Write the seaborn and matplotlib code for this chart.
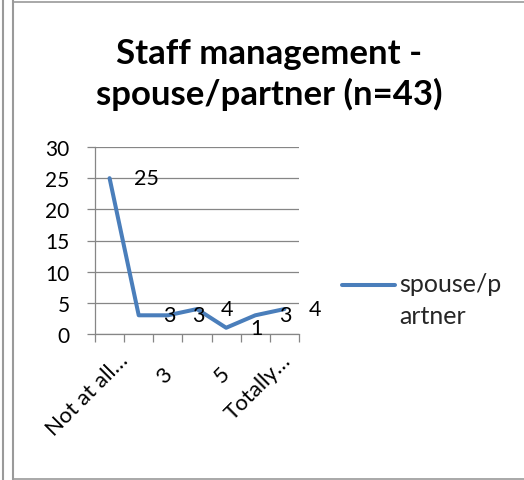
import numpy as np
import pandas as pd
import matplotlib
matplotlib.use("Agg")
import matplotlib.pyplot as plt
import matplotlib.transforms as mtransforms
from matplotlib.legend_handler import HandlerLine2D
from matplotlib.lines import Line2D
import seaborn as sns

# ---- data ----
categories = ["Not at all\u2026", "2", "3", "4", "5", "6", "Totally\u2026"]
values = [25, 3, 3, 4, 1, 3, 4]
shown_ticks = [0, 2, 4, 6]
y_ticks = [0, 5, 10, 15, 20, 25, 30]
series_name = "spouse/p\nartner"
title = "Staff management -\nspouse/partner (n=43)"

sns.set_theme(style="white")
plt.rcParams["font.family"] = ["Lato", "DejaVu Sans"]

W, H = 524, 481
fig = plt.figure(figsize=(W / 100, H / 100), dpi=100)
px = lambda x, y: (x / W, 1 - y / H)

ax = fig.add_axes([95 / W, 1 - 335 / H, 204 / W, 187 / H])
df = pd.DataFrame({"cat": categories, "val": values})
line_color = "#4A7EBB"
grid_color = "#868686"
sns.lineplot(data=df, x="cat", y="val", ax=ax, color=line_color, lw=2.9,
             sort=False, label=series_name, legend=False)
for ln in ax.lines:
    ln.set_solid_capstyle("round")
    ln.set_solid_joinstyle("round")

ax.set_xlim(-0.5, len(categories) - 0.5)
ax.set_ylim(0, 30)
ax.set_yticks(y_ticks)
ax.yaxis.grid(True, color=grid_color, lw=0.9)
ax.set_axisbelow(True)
ax.set_xlabel("")
ax.set_ylabel("")
for s in ["top", "right"]:
    ax.spines[s].set_visible(False)
for s in ["left", "bottom"]:
    ax.spines[s].set_color(grid_color)
    ax.spines[s].set_linewidth(0.9)

ax.tick_params(axis="y", which="major", length=5.8, width=0.9, color=grid_color,
               pad=12.5, labelsize=15, labelcolor="black", left=True)
ax.set_xticks(shown_ticks)
ax.set_xticklabels([categories[i] for i in shown_ticks])
ax.set_xticks(np.arange(-0.5, len(categories)), minor=True)
ax.tick_params(axis="x", which="minor", length=5.8, width=0.9, color=grid_color,
               bottom=True, direction="out")
ax.tick_params(axis="x", which="major", length=0, pad=0, labelsize=16,
               labelcolor="black")
label_offsets = [(15, -23), (1.5, -37), (1, -36), (3.5, -23)]
for lab, (dx, dy) in zip(ax.get_xticklabels(), label_offsets):
    lab.set_rotation(45)
    lab.set_rotation_mode("anchor")
    lab.set_ha("right")
    lab.set_va("center")
    lab.set_transform(lab.get_transform() +
                      mtransforms.ScaledTranslation(dx / 100, dy / 100, fig.dpi_scale_trans))

# data labels
for i, v in enumerate(values):
    ax.annotate(str(v), (i, v), xytext=(17.3, 0), textcoords="offset points",
                ha="left", va="center", fontsize=15.5, color="black")

# legend, handle aligned on first text line
class FirstLineHandler(HandlerLine2D):
    def create_artists(self, legend, orig_handle, xdescent, ydescent, width,
                       height, fontsize, trans):
        arts = super().create_artists(legend, orig_handle, xdescent, ydescent,
                                      width, height, fontsize, trans)
        for a in arts:
            a.set_ydata(np.asarray(a.get_ydata()) + 11.5)
        return arts

h = Line2D([], [], color=line_color, lw=2.9, solid_capstyle="round")
leg = fig.legend([h], [series_name], loc="upper left", bbox_to_anchor=px(342, 273),
                 frameon=False, fontsize=18, handlelength=2.1, handletextpad=0.2,
                 borderpad=0, borderaxespad=0, handler_map={h: FirstLineHandler()})
for t in leg.get_texts():
    t.set_linespacing(1.5)

fig.text(*px(269, 105), title, ha="center", va="baseline", fontsize=25,
         fontweight="bold", linespacing=1.28, color="black")

# outer frames
bc = "#9a9a9a"
fig.add_artist(Line2D([px(3, 0)[0]] * 2, [0, 1], color=bc, lw=1.5))
fig.add_artist(Line2D([px(13, 0)[0]] * 2, [0, 1], color=bc, lw=1.5))
fig.add_artist(Line2D([px(14, 0)[0], 1], [px(0, 3)[1]] * 2, color=bc, lw=1.2))
fig.add_artist(Line2D([px(14, 0)[0], 1], [px(0, 479.5)[1]] * 2, color=bc, lw=1.2))

fig.savefig("out.png", dpi=100, facecolor="white")
